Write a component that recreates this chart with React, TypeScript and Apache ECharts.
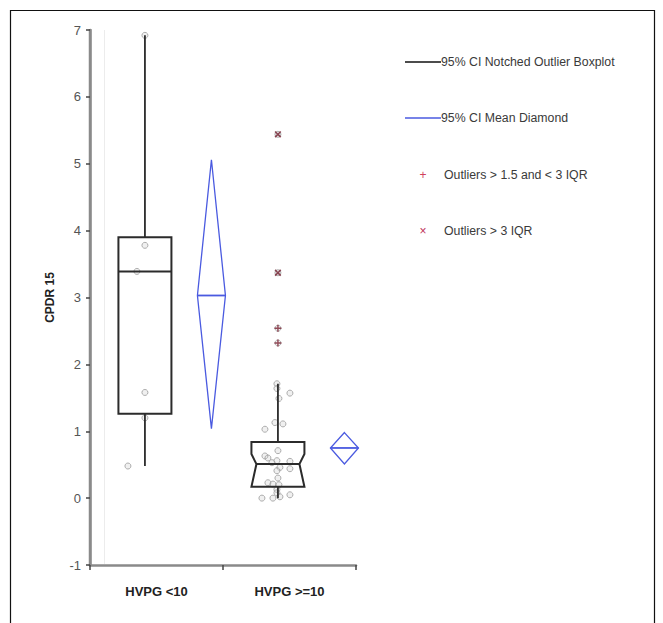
import React, { useEffect, useRef } from "react";
import * as echarts from "echarts";

const categories = ["HVPG <10", "HVPG >=10"];
// box stats per group: q1, median, q3, lower whisker, upper whisker
const q1 = [1.26, 0.17];
const median = [3.39, 0.51];
const q3 = [3.9, 0.84];
const whiskerLow = [0.48, 0.0];
const whiskerHigh = [6.92, 1.71];
// notch limits (null = no notch drawn)
const notchLow: (number | null)[] = [null, 0.17];
const notchHigh: (number | null)[] = [null, 0.66];
// 95% CI mean diamonds
const ciLow = [1.04, 0.51];
const meanVals = [3.03, 0.75];
const ciHigh = [5.06, 0.98];
// raw observations (value) with horizontal jitter (px)
const group1Values = [6.92, 3.78, 3.39, 1.58, 1.2, 0.48];
const group1Jitter = [0, 0, -8, 0, 0, -17];
const group2Values = [
  1.71, 1.64, 1.57, 1.49, 1.13, 1.11, 1.03, 0.71, 0.63, 0.6, 0.56, 0.55, 0.53,
  0.46, 0.44, 0.41, 0.3, 0.23, 0.21, 0.2, 0.13, 0.08, 0.05, 0.02, 0.0, 0.0,
  2.32, 2.54, 3.37, 5.44,
];
const group2Jitter = [
  -1, -1, 12, 1, -3, 5, -13, 0, -13, -10, -1, 12, -6, 2, 12, -1, 0, -10, -5, 1,
  -1, -1, 12, 2, -5, -16, 0, 0, 0, 0,
];
const mildOutliers = [2.32, 2.54];
const extremeOutliers = [3.37, 5.44];
const legendLabels = [
  "95% CI Notched Outlier Boxplot",
  "95% CI Mean Diamond",
  "Outliers > 1.5 and < 3 IQR",
  "Outliers > 3 IQR",
];

const BOX_OFFSET = 0.413; // box center within category (value-axis units)
const DIAMOND_OFFSET = 0.913;
const PX_PER_UNIT = 133;
const BOX_HALF = 26.5;
const DIAMOND_HALF = 14;
const NOTCH_INDENT = 5;

const PLUS_PATH = "path://M4,0H6V4H10V6H6V10H4V6H0V4H4Z";

export default function App() {
  const ref = useRef<HTMLDivElement>(null);
  useEffect(() => {
    document.body.style.margin = "0";
    const chart = echarts.init(ref.current!, undefined, { renderer: "svg" });

    const boxData = categories.map((_, i) => [
      i + BOX_OFFSET,
      q1[i],
      median[i],
      q3[i],
      whiskerLow[i],
      whiskerHigh[i],
      notchLow[i] == null ? q1[i] : notchLow[i],
      notchHigh[i] == null ? q3[i] : notchHigh[i],
      notchLow[i] == null ? 0 : 1,
    ]);
    const diamondData = categories.map((_, i) => [
      i + DIAMOND_OFFSET,
      ciLow[i],
      meanVals[i],
      ciHigh[i],
    ]);
    const pts: number[][] = [];
    group1Values.forEach((v, k) =>
      pts.push([BOX_OFFSET + group1Jitter[k] / PX_PER_UNIT, v])
    );
    group2Values.forEach((v, k) =>
      pts.push([1 + BOX_OFFSET + group2Jitter[k] / PX_PER_UNIT, v])
    );

    const option: any = {
      animation: false,
      backgroundColor: "#fff",
      grid: { left: 90, right: 307, top: 30, bottom: 58 },
      xAxis: [
        {
          type: "category",
          data: categories,
          boundaryGap: true,
          axisLine: { show: true, onZero: false, lineStyle: { color: "#8a8a8a", width: 2.5 } },
          axisTick: { show: true, length: 5, lineStyle: { color: "#444", width: 1.5 } },
          axisLabel: {
            color: "#222",
            fontFamily: "Arial, Liberation Sans, sans-serif",
            fontWeight: "bold",
            fontSize: 13,
            margin: 20,
          },
          splitLine: { show: false },
        },
        { type: "value", min: 0, max: 2, show: false },
      ],
      yAxis: {
        type: "value",
        min: -1,
        max: 7,
        interval: 1,
        name: "CPDR 15",
        nameLocation: "middle",
        nameGap: 34,
        nameTextStyle: {
          color: "#222",
          fontFamily: "Arial, Liberation Sans, sans-serif",
          fontWeight: "bold",
          fontSize: 12,
        },
        axisLine: { show: true, onZero: false, lineStyle: { color: "#8a8a8a", width: 2.5 } },
        axisTick: { show: true, length: 4, lineStyle: { color: "#444", width: 1.5 } },
        axisLabel: {
          color: "#555",
          fontFamily: "Arial, Liberation Sans, sans-serif",
          fontSize: 13,
          margin: 9,
        },
        splitLine: { show: false },
      },
      series: [
        {
          type: "scatter",
          xAxisIndex: 1,
          data: pts,
          symbol: "circle",
          symbolSize: 6,
          itemStyle: { color: "rgba(200,200,200,0.35)", borderColor: "#9a9a9a", borderWidth: 1 },
          z: 1,
        },
        {
          type: "custom",
          xAxisIndex: 1,
          data: boxData,
          z: 3,
          renderItem: (params: any, api: any) => {
            const cx = api.value(0);
            const pQ1 = api.coord([cx, api.value(1)]);
            const pMed = api.coord([cx, api.value(2)]);
            const pQ3 = api.coord([cx, api.value(3)]);
            const pWl = api.coord([cx, api.value(4)]);
            const pWh = api.coord([cx, api.value(5)]);
            const pNl = api.coord([cx, api.value(6)]);
            const pNh = api.coord([cx, api.value(7)]);
            const ind = api.value(8) ? NOTCH_INDENT : 0;
            const x = pMed[0];
            const L = x - BOX_HALF;
            const R = x + BOX_HALF;
            const stroke = { stroke: "#2b2b2b", lineWidth: 2, fill: "none" };
            return {
              type: "group",
              children: [
                {
                  type: "line",
                  shape: { x1: x, y1: pQ3[1], x2: x, y2: pWh[1] },
                  style: { stroke: "#2b2b2b", lineWidth: 1.8 },
                },
                {
                  type: "line",
                  shape: { x1: x, y1: pQ1[1], x2: x, y2: pWl[1] },
                  style: { stroke: "#2b2b2b", lineWidth: 1.8 },
                },
                {
                  type: "polygon",
                  shape: {
                    points: [
                      [L, pQ3[1]],
                      [L, pNh[1]],
                      [L + ind, pMed[1]],
                      [L, pNl[1]],
                      [L, pQ1[1]],
                      [R, pQ1[1]],
                      [R, pNl[1]],
                      [R - ind, pMed[1]],
                      [R, pNh[1]],
                      [R, pQ3[1]],
                    ],
                  },
                  style: stroke,
                },
                {
                  type: "line",
                  shape: { x1: L + ind, y1: pMed[1], x2: R - ind, y2: pMed[1] },
                  style: { stroke: "#2b2b2b", lineWidth: 2 },
                },
              ],
            };
          },
        },
        {
          type: "custom",
          xAxisIndex: 1,
          data: diamondData,
          z: 3,
          renderItem: (params: any, api: any) => {
            const cx = api.value(0);
            const lo = api.coord([cx, api.value(1)]);
            const mid = api.coord([cx, api.value(2)]);
            const hi = api.coord([cx, api.value(3)]);
            const x = mid[0];
            return {
              type: "group",
              children: [
                {
                  type: "polygon",
                  shape: {
                    points: [
                      [x, hi[1]],
                      [x + DIAMOND_HALF, mid[1]],
                      [x, lo[1]],
                      [x - DIAMOND_HALF, mid[1]],
                    ],
                  },
                  style: { stroke: "#4a5ae0", lineWidth: 1.3, fill: "none" },
                },
                {
                  type: "line",
                  shape: { x1: x - DIAMOND_HALF, y1: mid[1], x2: x + DIAMOND_HALF, y2: mid[1] },
                  style: { stroke: "#4a5ae0", lineWidth: 1.8 },
                },
              ],
            };
          },
        },
        {
          type: "scatter",
          xAxisIndex: 1,
          data: mildOutliers.map((v) => [1 + BOX_OFFSET, v]),
          symbol: PLUS_PATH,
          symbolSize: 7,
          itemStyle: { color: "#7a2232" },
          z: 4,
        },
        {
          type: "scatter",
          xAxisIndex: 1,
          data: extremeOutliers.map((v) => [1 + BOX_OFFSET, v]),
          symbol: PLUS_PATH,
          symbolRotate: 45,
          symbolSize: 8,
          itemStyle: { color: "#6e1a2a" },
          z: 4,
        },
      ],
      graphic: [
        {
          type: "rect",
          shape: { x: 10.5, y: 10.5, width: 644, height: 640 },
          style: { fill: "none", stroke: "#111", lineWidth: 1.2 },
          silent: true,
        },
        {
          type: "line",
          shape: { x1: 104.5, y1: 30, x2: 104.5, y2: 564 },
          style: { stroke: "#ececec", lineWidth: 1 },
          silent: true,
          z: -1,
        },
        {
          type: "line",
          shape: { x1: 90, y1: 29, x2: 90, y2: 566 },
          style: { stroke: "#8a8a8a", lineWidth: 2.5 },
          silent: true,
        },
        {
          type: "line",
          shape: { x1: 405, y1: 62, x2: 441, y2: 62 },
          style: { stroke: "#111", lineWidth: 1.3 },
        },
        {
          type: "line",
          shape: { x1: 405, y1: 118, x2: 441, y2: 118 },
          style: { stroke: "#4a5ae0", lineWidth: 1.3 },
        },
        {
          type: "text",
          x: 423,
          y: 175,
          style: { text: "+", fill: "#d0405e", fontSize: 12, fontFamily: "Arial", align: "center", verticalAlign: "middle" },
        },
        {
          type: "text",
          x: 423,
          y: 231,
          style: { text: "×", fill: "#c03058", fontSize: 12, fontFamily: "Arial", align: "center", verticalAlign: "middle" },
        },
        ...legendLabels.map((t, i) => ({
          type: "text",
          x: i < 2 ? 441 : 444,
          y: [62, 118, 175, 231][i],
          style: {
            text: t,
            fill: "#3a3a3a",
            fontSize: 12.3,
            fontFamily: "Arial, Liberation Sans, sans-serif",
            verticalAlign: "middle",
          },
        })),
      ],
    };
    chart.setOption(option);
    return () => chart.dispose();
  }, []);
  return (
    <div
      ref={ref}
      style={{ position: "absolute", left: 0, top: 0, width: 663, height: 623 }}
    />
  );
}
